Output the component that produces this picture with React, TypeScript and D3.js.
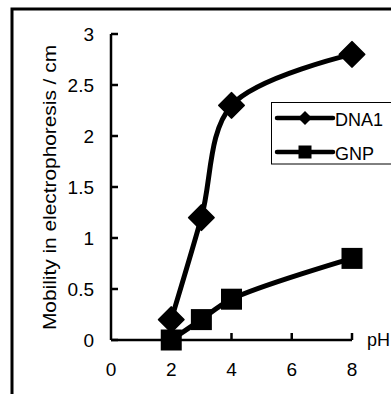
import * as d3 from 'd3'

const phValues = [2, 3, 4, 8]
const dna1 = [0.2, 1.2, 2.3, 2.8]
const gnp = [0, 0.2, 0.4, 0.8]
const xTicks = [0, 2, 4, 6, 8]
const yTicks = [0, 0.5, 1, 1.5, 2, 2.5, 3]
const yTickLabels = ['0', '0.5', '1', '1.5', '2', '2.5', '3']
const seriesNames = ['DNA1', 'GNP']

const W = 391
const H = 394
const font = 'Liberation Sans, Arial, sans-serif'

export default function App() {
  const x = d3.scaleLinear().domain([0, 8]).range([111, 352])
  const y = d3.scaleLinear().domain([0, 3]).range([340, 34])

  const line = d3
    .line<number>()
    .x((_, i) => x(phValues[i]))
    .y((d) => y(d))
    .curve(d3.curveCatmullRom.alpha(0.5))

  const diamond = (cx: number, cy: number, r: number) =>
    `M${cx},${cy - r}L${cx + r},${cy}L${cx},${cy + r}L${cx - r},${cy}Z`

  return (
    <svg
      width={W}
      height={H}
      style={{ position: 'absolute', left: 0, top: 0, background: '#fff' }}
      fontFamily={font}
    >
      {/* outer frame */}
      <path d={`M12,${H}V9H${W}`} fill="none" stroke="#000" strokeWidth={3} />

      {/* axes */}
      <line x1={x(0)} x2={x(0)} y1={y(3)} y2={y(0)} stroke="#000" strokeWidth={2.5} />
      <line x1={x(0)} x2={x(8)} y1={y(0)} y2={y(0)} stroke="#000" strokeWidth={2.5} />
      {yTicks.map((t, i) => (
        <g key={'y' + t}>
          <line x1={x(0)} x2={x(0) + 7} y1={y(t)} y2={y(t)} stroke="#000" strokeWidth={2.5} />
          <text x={94} y={y(t) + 7} textAnchor="end" fontSize={19}>
            {yTickLabels[i]}
          </text>
        </g>
      ))}
      {xTicks.map((t) => (
        <g key={'x' + t}>
          {t > 0 && (
            <line x1={x(t)} x2={x(t)} y1={y(0)} y2={y(0) - 7} stroke="#000" strokeWidth={2.5} />
          )}
          <text x={x(t)} y={376} textAnchor="middle" fontSize={19}>
            {t}
          </text>
        </g>
      ))}
      <text x={367} y={346} fontSize={18}>pH</text>
      <text
        transform="translate(56,187.5) rotate(-90)"
        textAnchor="middle"
        fontSize={18}
        textLength={285}
        lengthAdjust="spacingAndGlyphs"
      >
        Mobility in electrophoresis / cm
      </text>

      {/* series */}
      <path d={line(dna1) ?? ''} fill="none" stroke="#000" strokeWidth={5} />
      <path d={line(gnp) ?? ''} fill="none" stroke="#000" strokeWidth={5} />
      {dna1.map((v, i) => (
        <path key={'d' + i} d={diamond(x(phValues[i]), y(v), 12.5)} fill="#000" stroke="#000" strokeWidth={2} strokeLinejoin="round" />
      ))}
      {gnp.map((v, i) => (
        <rect key={'g' + i} x={x(phValues[i]) - 10.5} y={y(v) - 10.5} width={21} height={21} fill="#000" />
      ))}

      {/* legend */}
      <rect x={271.5} y={102.5} width={130} height={61.5} fill="#fff" stroke="#000" strokeWidth={1} />
      {seriesNames.map((name, i) => {
        const ly = 118 + i * 34
        return (
          <g key={name}>
            <line x1={277} x2={333} y1={ly} y2={ly} stroke="#000" strokeWidth={4.5} strokeLinecap="round" />
            {i === 0 ? (
              <path d={diamond(305, ly, 7)} fill="#000" />
            ) : (
              <rect x={298.5} y={ly - 6.5} width={13} height={13} fill="#000" />
            )}
            <text x={335} y={ly + 8} fontSize={18}>
              {name}
            </text>
          </g>
        )
      })}
    </svg>
  )
}
